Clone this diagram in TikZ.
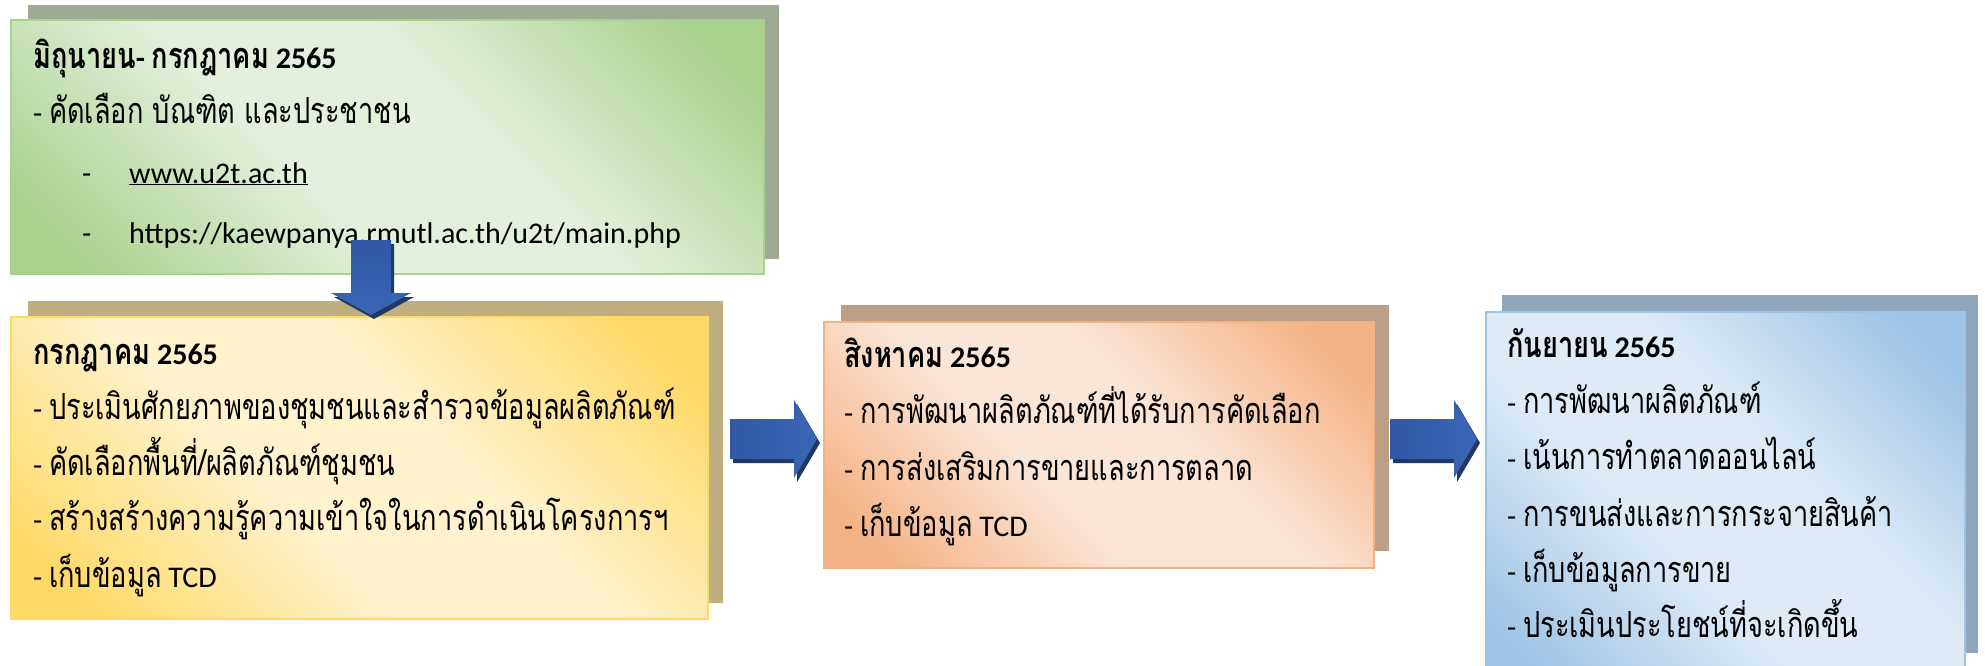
\documentclass[tikz,border=0pt]{standalone}
\usepackage{fontspec}
\setmainfont{Carlito}
\newfontfamily\thai[Script=Thai,Scale=1.2,FakeStretch=0.755]{Loma}
\usetikzlibrary{calc}
\definecolor{gD}{HTML}{A9D18E}\definecolor{gL}{HTML}{E4F0DC}\definecolor{gS}{HTML}{9EAA93}
\definecolor{yD}{HTML}{FFD966}\definecolor{yL}{HTML}{FFF2CC}\definecolor{yS}{HTML}{BFAE7F}
\definecolor{oD}{HTML}{F4B183}\definecolor{oL}{HTML}{FBE5D6}\definecolor{oS}{HTML}{BF9E86}
\definecolor{bD}{HTML}{9DC3E6}\definecolor{bL}{HTML}{DEEBF7}\definecolor{bS}{HTML}{8FA6BC}
\definecolor{aL}{HTML}{4A78C8}\definecolor{aD}{HTML}{3058A4}\definecolor{aM}{HTML}{3A66B6}\definecolor{aS}{HTML}{1F3864}
\pgfdeclarehorizontalshading{gband}{100bp}{color(0bp)=(gD); color(20bp)=(gD); color(42bp)=(gL); color(58bp)=(gL); color(80bp)=(gD); color(100bp)=(gD)}
\pgfdeclarehorizontalshading{yband}{100bp}{color(0bp)=(yD); color(20bp)=(yD); color(42bp)=(yL); color(58bp)=(yL); color(80bp)=(yD); color(100bp)=(yD)}
\pgfdeclarehorizontalshading{oband}{100bp}{color(0bp)=(oD); color(20bp)=(oD); color(42bp)=(oL); color(58bp)=(oL); color(80bp)=(oD); color(100bp)=(oD)}
\pgfdeclarehorizontalshading{bband}{100bp}{color(0bp)=(bD); color(20bp)=(bD); color(42bp)=(bL); color(58bp)=(bL); color(80bp)=(bD); color(100bp)=(bD)}
\tikzset{
  box/.style={draw=#1D, line width=1.5pt, shade, shading=#1band,
    shading angle=45, anchor=north west, inner sep=0pt},
  txt/.style={anchor=base west, inner sep=0pt, text=black, font=\fontsize{30}{36}\selectfont},
  hd/.style={txt, font=\fontsize{30}{36}\selectfont\bfseries},
  rarr/.style={left color=aD, middle color=aL, right color=aM},
  darr/.style={top color=aD, middle color=aL, bottom color=aM},
}
\newcommand{\tht}[1]{{\thai #1}}
\newcommand{\ind}{\hbox to 47pt{-\hfil}}
\begin{document}
\begin{tikzpicture}[x=1pt,y=-1pt]
\clip (0,0) rectangle (1985,665);
% green box
\fill[gS] (28,5) rectangle (779,259);
\node[box=g, minimum width=753, minimum height=254] (g) at (10,19) {};
\node[hd] (g0) at ($(g.north west)+(23,49)$) {\tht{มิถุนายน}- \tht{กรกฎาคม} 2565};
\node[txt] (g1) at ($(g.north west)+(23,104)$) {- \tht{คัดเลือก บัณฑิต และประชาชน}};
\node[txt] (g2) at ($(g.north west)+(72,164)$) {\ind\underline{www.u2t.ac.th}};
\node[txt] (g3) at ($(g.north west)+(72,224)$) {\ind https://kaewpanya.rmutl.ac.th/u2t/main.php};
% yellow box
\fill[yS] (28,301) rectangle (723,603);
\node[box=y, minimum width=697, minimum height=302] (y) at (10,316) {};
\node[hd] (y0) at ($(y.north west)+(23,48)$) {\tht{กรกฎาคม} 2565};
\node[txt] (y1) at ($(y.north west)+(23,103)$) {- \tht{ประเมินศักยภาพของชุมชนและสำรวจข้อมูลผลิตภัณฑ์}};
\node[txt] (y2) at ($(y.north west)+(23,159)$) {- \tht{คัดเลือกพื้นที่/ผลิตภัณฑ์ชุมชน}};
\node[txt] (y3) at ($(y.north west)+(23,214)$) {- \tht{สร้างสร้างความรู้ความเข้าใจในการดำเนินโครงการฯ}};
\node[txt] (y4) at ($(y.north west)+(23,271)$) {- \tht{เก็บข้อมูล} TCD};
% orange box
\fill[oS] (841,305) rectangle (1389,551);
\node[box=o, minimum width=550, minimum height=246] (o) at (823,321) {};
\node[hd] (o0) at ($(o.north west)+(21,46)$) {\tht{สิงหาคม} 2565};
\node[txt] (o1) at ($(o.north west)+(21,102)$) {- \tht{การพัฒนาผลิตภัณฑ์ที่ได้รับการคัดเลือก}};
\node[txt] (o2) at ($(o.north west)+(21,159)$) {- \tht{การส่งเสริมการขายและการตลาด}};
\node[txt] (o3) at ($(o.north west)+(21,215)$) {- \tht{เก็บข้อมูล} TCD};
% blue box
\fill[bS] (1502,295) rectangle (1978,653);
\node[box=b, minimum width=479, minimum height=380] (b) at (1485,311) {};
\node[hd] (b0) at ($(b.north west)+(22,46)$) {\tht{กันยายน} 2565};
\node[txt] (b1) at ($(b.north west)+(22,102)$) {- \tht{การพัฒนาผลิตภัณฑ์}};
\node[txt] (b2) at ($(b.north west)+(22,158)$) {- \tht{เน้นการทำตลาดออนไลน์}};
\node[txt] (b3) at ($(b.north west)+(22,215)$) {- \tht{การขนส่งและการกระจายสินค้า}};
\node[txt] (b4) at ($(b.north west)+(22,271)$) {- \tht{เก็บข้อมูลการขาย}};
\node[txt] (b5) at ($(b.north west)+(22,326)$) {- \tht{ประเมินประโยชน์ที่จะเกิดขึ้น}};
% down arrow
\coordinate (da) at (371,240);
\fill[aS] ($(da)+(3,4)$) ++(-20,0) -- ++(40,0) -- ++(0,53) -- ++(20,0) -- ++(-40,22) -- ++(-40,-22) -- ++(20,0) -- cycle;
\shade[darr] (da) ++(-20,0) -- ++(40,0) -- ++(0,53) -- ++(20,0) -- ++(-40,22) -- ++(-40,-22) -- ++(20,0) -- cycle;
% right arrows
\coordinate (ra) at (730,439);
\coordinate (rb) at (1390,439);
\foreach \c in {ra,rb}{
  \fill[aS] ($(\c)+(3,4)$) ++(0,-20) -- ++(64,0) -- ++(0,-19) -- ++(23,39) -- ++(-23,39) -- ++(0,-19) -- ++(-64,0) -- cycle;
  \shade[rarr] (\c) ++(0,-20) -- ++(64,0) -- ++(0,-19) -- ++(23,39) -- ++(-23,39) -- ++(0,-19) -- ++(-64,0) -- cycle;
}
\end{tikzpicture}
\end{document}
